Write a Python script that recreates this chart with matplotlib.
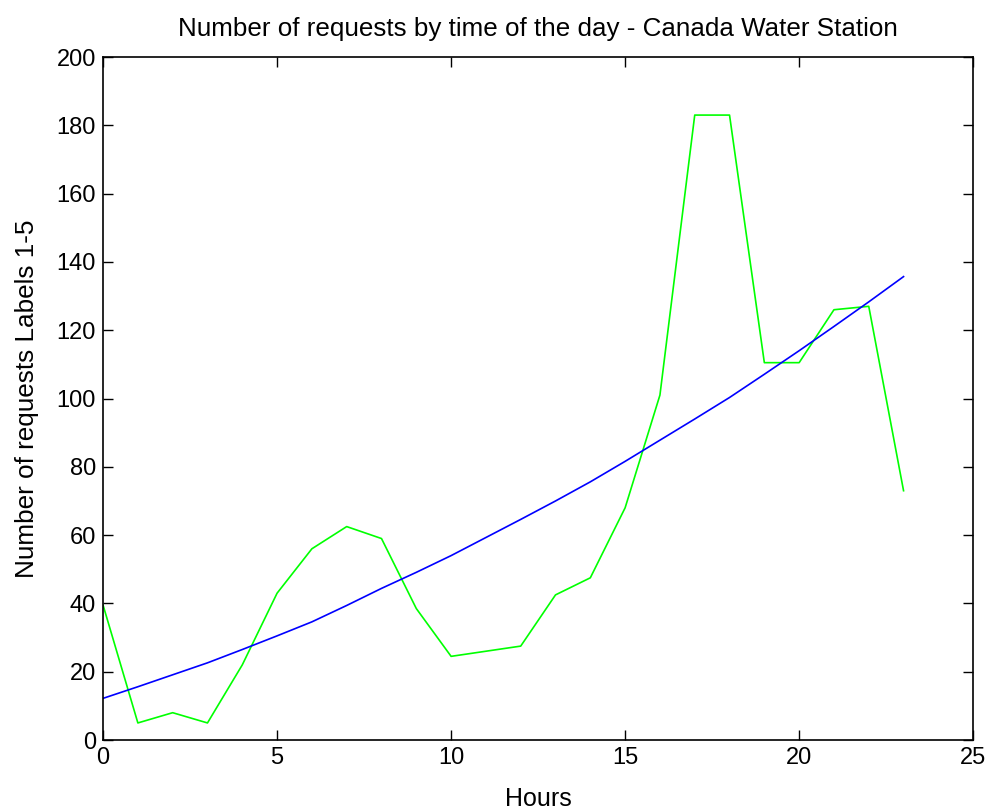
import matplotlib
matplotlib.use("Agg")
import matplotlib.pyplot as plt
from matplotlib import font_manager

hours = list(range(24))
requests = [39.5, 5, 8, 5, 22, 43, 56, 62.5, 59, 38.5, 24.5, 26, 27.5, 42.5, 47.5, 68,
            101, 183, 183, 110.5, 110.5, 126, 127, 73]
trend = [12.2, 15.6, 19.1, 22.6, 26.5, 30.5, 34.6, 39.4, 44.4, 49.1, 54.0, 59.3, 64.6,
         70.0, 75.6, 81.6, 87.8, 94.0, 100.3, 107.1, 114.0, 121.1, 128.3, 135.7]

xticks = [0, 5, 10, 15, 20, 25]
yticks = [0, 20, 40, 60, 80, 100, 120, 140, 160, 180, 200]

names = {f.name for f in font_manager.fontManager.ttflist}
tick_family = ['Liberation Sans Narrow', 'Liberation Sans'] if 'Liberation Sans Narrow' in names else ['Liberation Sans']

plt.rcParams['font.family'] = ['Liberation Sans', 'DejaVu Sans']
fig = plt.figure(figsize=(9.91, 8.10), dpi=100)
ax = fig.add_axes([0.104, 0.0864, 0.878, 0.8432])
ax.plot(hours, requests, color=(0, 1, 0), linewidth=1.2)
ax.plot(hours, trend, color=(0, 0, 1), linewidth=1.2)
ax.set_xlim(0, 25)
ax.set_ylim(0, 200)
ax.set_xticks(xticks)
ax.set_yticks(yticks)
ax.tick_params(direction='in', top=True, right=True, length=7, width=1, pad=5)
for lab in ax.get_xticklabels() + ax.get_yticklabels():
    lab.set_family(tick_family)
    lab.set_fontsize(17)
for s in ax.spines.values():
    s.set_linewidth(1.2)
ax.set_title('Number of requests by time of the day - Canada Water Station', fontsize=18.7, pad=15)
ax.set_xlabel('Hours', fontsize=18, labelpad=13)
ax.set_ylabel('Number of requests Labels 1-5', fontsize=18.8, labelpad=13)
fig.savefig('out.png', dpi=100)
